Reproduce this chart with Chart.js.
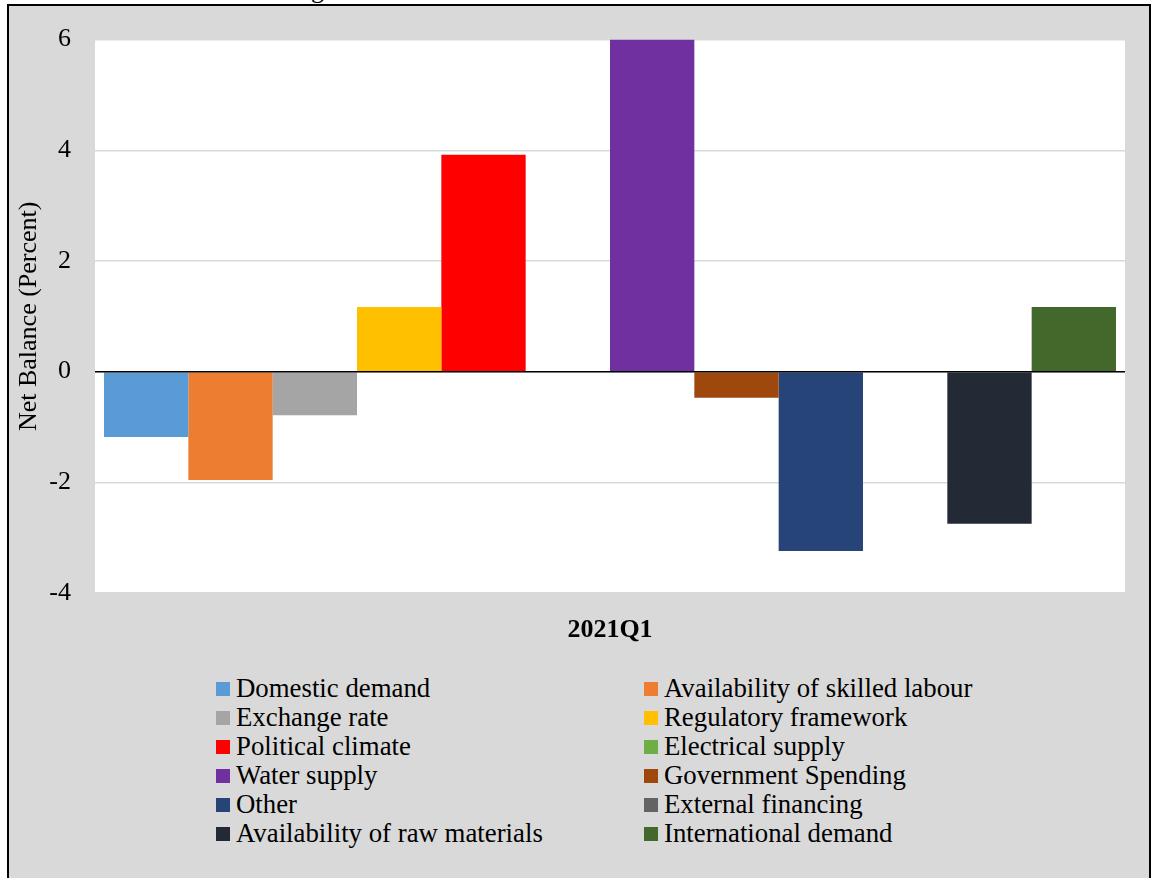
<!DOCTYPE html>
<html>
<head>
<meta charset="utf-8">
<script src="https://cdn.jsdelivr.net/npm/chart.js@4"></script>
<style>
  body { margin: 0; background: #fff; font-family: "Liberation Serif", "Times New Roman", serif; }
  #frame { position: absolute; left: 7px; top: 4px; width: 1140px; height: 880px; border: 2px solid #000; background: #d9d9d9; }
  #titleFrag { position: absolute; left: 311px; top: -23px; font-size: 26px; line-height: 26px; color: #000; }
  #chartWrap { position: absolute; left: 0; top: 0; }
  #legend { position: absolute; left: 216px; top: 674px; width: 820px; display: grid; grid-template-columns: 428px 392px; row-gap: 0; }
  .item { display: flex; align-items: center; height: 29px; font-size: 26.8px; color: #000; white-space: nowrap; }
  .box { width: 14px; height: 14px; margin-right: 6px; flex: none; }
</style>
</head>
<body>
<div id="titleFrag">g</div>
<div id="frame"></div>
<div id="chartWrap"><canvas id="chart" width="1151" height="660"></canvas></div>
<div id="legend"></div>
<script>
const categories = ["2021Q1"];

const seriesNames = [
  "Domestic demand", "Availability of skilled labour", "Exchange rate", "Regulatory framework",
  "Political climate", "Electrical supply", "Water supply", "Government Spending",
  "Other", "External financing", "Availability of raw materials", "International demand"
];

const seriesValues = [-1.18, -1.96, -0.79, 1.17, 3.92, 0, 6.0, -0.47, -3.24, 0, -2.75, 1.17];

const seriesColors = [
  "#5b9bd5", "#ed7d31", "#a5a5a5", "#ffc000",
  "#ff0000", "#70ad47", "#7030a0", "#9e480e",
  "#264478", "#636363", "#232a35", "#43682b"
];

const yTicks = [-4, -2, 0, 2, 4, 6];

const serif = "'Liberation Serif', 'Times New Roman', serif";

const datasets = seriesNames.map((name, i) => ({
  label: name,
  data: [seriesValues[i]],
  backgroundColor: seriesColors[i],
  borderWidth: 0,
  barPercentage: 1,
  categoryPercentage: 0.9825
}));

// white plot area + black zero line on top of the bars
const plotArea = {
  id: "plotArea",
  beforeDraw(chart) {
    const { ctx, chartArea: a } = chart;
    ctx.save();
    ctx.fillStyle = "#ffffff";
    ctx.fillRect(a.left, a.top, a.right - a.left, a.bottom - a.top);
    ctx.restore();
  },
  afterDatasetsDraw(chart) {
    const { ctx, chartArea: a } = chart;
    const y0 = chart.scales.y.getPixelForValue(0);
    ctx.save();
    ctx.strokeStyle = "#000";
    ctx.lineWidth = 1.5;
    ctx.beginPath();
    ctx.moveTo(a.left, y0);
    ctx.lineTo(a.right, y0);
    ctx.stroke();
    ctx.restore();
  }
};

const chart = new Chart(document.getElementById("chart"), {
  type: "bar",
  data: { labels: categories, datasets: datasets },
  plugins: [plotArea],
  options: {
    responsive: false,
    animation: false,
    layout: { padding: { left: 0, top: 38, right: 26, bottom: 0 } },
    plugins: {
      legend: { display: false },
      tooltip: { enabled: false }
    },
    scales: {
      x: {
        afterFit: s => { s.height = 67; },
        grid: { display: false },
        border: { display: false },
        ticks: {
          padding: 14,
          color: "#000",
          font: { family: serif, size: 26, weight: "bold" }
        }
      },
      y: {
        min: -4,
        max: 6,
        afterFit: s => { s.width = 95; },
        afterBuildTicks: s => { s.ticks = yTicks.map(v => ({ value: v })); },
        grid: { color: "#d9d9d9", lineWidth: 1.5, drawTicks: false },
        border: { display: false },
        ticks: {
          padding: 24,
          color: "#000",
          font: { family: serif, size: 26 }
        },
        title: {
          display: true,
          text: "Net Balance (Percent)",
          color: "#000",
          padding: { top: 14, bottom: 0 },
          font: { family: serif, size: 26 }
        }
      }
    }
  }
});

const legend = document.getElementById("legend");
chart.data.datasets.forEach(ds => {
  const item = document.createElement("div");
  item.className = "item";
  const box = document.createElement("span");
  box.className = "box";
  box.style.background = ds.backgroundColor;
  const txt = document.createElement("span");
  txt.textContent = ds.label;
  item.appendChild(box);
  item.appendChild(txt);
  legend.appendChild(item);
});
</script>
</body>
</html>
